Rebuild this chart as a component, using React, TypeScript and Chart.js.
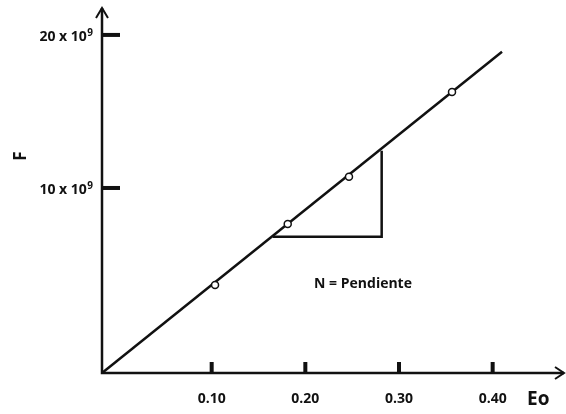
import React, { useEffect, useRef } from "react";
import { Chart, registerables } from "chart.js";

Chart.register(...registerables);

// Data (schematic F vs Eo)
const lineX = [-0.0171, 0.41];
const lineY = [-2.09e9, 18.9e9];
const pointX = [0.1036, 0.1812, 0.2466, 0.3566];
const pointY = [3.66e9, 7.65e9, 10.74e9, 16.27e9];
const triangleX = [0.1652, 0.2815, 0.2815];
const triangleY = [6.82e9, 6.82e9, 12.44e9];
const xTickValues = [0.1, 0.2, 0.3, 0.4];
const xTickLabels = ["0.10", "0.20", "0.30", "0.40"];
const yTickValues = [10e9, 20e9];
const yTickLabels = ["10 x 10", "20 x 10"];
const yTickExponents = ["9", "9"];
const annotationText = "N = Pendiente";
const annotationPos = [0.2616, 3.7e9];
const xTitle = "Eo";
const yTitle = "F";

const X_MIN = -0.0171;
const X_MAX = 0.4719;
const Y_MIN = -2.09e9;
const Y_MAX = 21.76e9;

const INK = "#111";
const FONT = "'Open Sans', 'DejaVu Sans', sans-serif";

const axesPlugin = {
  id: "schematicAxes",
  afterDatasetsDraw(chart: any) {
    const ctx = chart.ctx as CanvasRenderingContext2D;
    const xs = chart.scales.x;
    const ys = chart.scales.y;
    const left = chart.chartArea.left;
    const bottom = chart.chartArea.bottom;
    const top = chart.chartArea.top;
    ctx.save();
    ctx.strokeStyle = INK;
    ctx.fillStyle = INK;
    ctx.lineWidth = 2.5;
    ctx.lineCap = "butt";
    // axes
    ctx.beginPath();
    ctx.moveTo(left, top);
    ctx.lineTo(left, bottom);
    ctx.lineTo(564, bottom);
    ctx.stroke();
    // arrows
    ctx.lineWidth = 2;
    ctx.beginPath();
    ctx.moveTo(left - 6, top + 10);
    ctx.lineTo(left, top);
    ctx.lineTo(left + 6, top + 10);
    ctx.stroke();
    ctx.beginPath();
    ctx.moveTo(555, bottom - 6);
    ctx.lineTo(564, bottom);
    ctx.lineTo(555, bottom + 6);
    ctx.stroke();
    // x tick marks and labels
    ctx.font = `bold 14px ${FONT}`;
    ctx.textAlign = "center";
    ctx.textBaseline = "middle";
    xTickValues.forEach((v, i) => {
      const px = xs.getPixelForValue(v);
      ctx.fillRect(px - 2, bottom - 11, 4, 11);
      ctx.fillText(xTickLabels[i], px, 399);
    });
    // y tick marks and labels (with superscript exponent)
    yTickValues.forEach((v, i) => {
      const py = ys.getPixelForValue(v);
      ctx.fillRect(left + 1, py - 2, 17, 4);
      ctx.font = `bold 10px ${FONT}`;
      ctx.textAlign = "right";
      const expW = ctx.measureText(yTickExponents[i]).width;
      ctx.fillText(yTickExponents[i], 93, py - 2);
      ctx.font = `bold 14px ${FONT}`;
      ctx.fillText(yTickLabels[i], 93 - expW - 0.5, py + 2);
    });
    // titles
    ctx.font = `bold 19px ${FONT}`;
    ctx.textAlign = "left";
    ctx.fillText(xTitle, 527, 400);
    ctx.save();
    ctx.translate(21, 156);
    ctx.rotate(-Math.PI / 2);
    ctx.textAlign = "center";
    ctx.font = `bold 17px ${FONT}`;
    ctx.fillText(yTitle, 0, 0);
    ctx.restore();
    // annotation
    ctx.font = `bold 14px ${FONT}`;
    ctx.textAlign = "center";
    ctx.fillText(
      annotationText,
      xs.getPixelForValue(annotationPos[0]),
      ys.getPixelForValue(annotationPos[1])
    );
    ctx.restore();
  },
};

export default function App() {
  const ref = useRef<HTMLCanvasElement>(null);
  useEffect(() => {
    if (!ref.current) return;
    const chart = new Chart(ref.current, {
      type: "line",
      data: {
        datasets: [
          {
            label: "points",
            data: pointX.map((x, i) => ({ x, y: pointY[i] })),
            showLine: false,
            pointRadius: 3.5,
            pointBackgroundColor: "#fff",
            pointBorderColor: INK,
            pointBorderWidth: 1.5,
            order: 0,
            clip: false,
          } as any,
          {
            label: "line",
            data: lineX.map((x, i) => ({ x, y: lineY[i] })),
            borderColor: INK,
            borderWidth: 2.5,
            pointRadius: 0,
            order: 1,
            clip: false,
          } as any,
          {
            label: "triangle",
            data: triangleX.map((x, i) => ({ x, y: triangleY[i] })),
            borderColor: INK,
            borderWidth: 2.5,
            pointRadius: 0,
            order: 2,
            clip: false,
          } as any,
        ],
      },
      options: {
        responsive: false,
        animation: false,
        layout: { padding: { left: 102, top: 8, right: 6, bottom: 41 } },
        plugins: { legend: { display: false }, tooltip: { enabled: false } },
        scales: {
          x: { type: "linear", min: X_MIN, max: X_MAX, display: false },
          y: { type: "linear", min: Y_MIN, max: Y_MAX, display: false },
        },
      },
      plugins: [axesPlugin],
    });
    return () => chart.destroy();
  }, []);
  return (
    <div style={{ position: "fixed", left: 0, top: 0, width: 566, height: 414, background: "#fff" }}>
      <canvas ref={ref} width={566} height={414} style={{ display: "block" }} />
    </div>
  );
}
